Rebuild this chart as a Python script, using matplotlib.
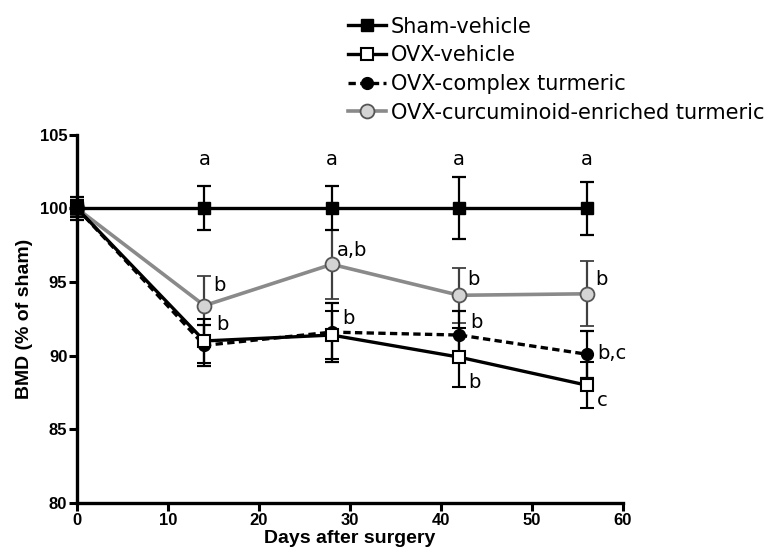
import matplotlib.pyplot as plt
from matplotlib.lines import Line2D

# BMD (% of sham) vs days after surgery
days = [0, 14, 28, 42, 56]

sham = [100, 100, 100, 100, 100]
sham_err = [0.8, 1.5, 1.5, 2.1, 1.8]

ovx = [100, 91.0, 91.4, 89.9, 88.0]
ovx_err = [0.6, 1.5, 1.6, 2.0, 1.55]

cplx = [100, 90.7, 91.6, 91.4, 90.1]
cplx_err = [0.6, 1.4, 2.0, 1.6, 1.6]

curc = [100, 93.4, 96.2, 94.1, 94.2]
curc_err = [0.5, 2.0, 2.35, 1.85, 2.2]

labels = ['Sham-vehicle', 'OVX-vehicle', 'OVX-complex turmeric',
          'OVX-curcuminoid-enriched turmeric']

# significance letters: (x, y, text)
sham_letters = ['a', 'a', 'a', 'a']
other_letters = [(15.0, 94.75, 'b'), (15.3, 92.15, 'b'),
                 (28.6, 97.13, 'a,b'), (29.2, 92.5, 'b'),
                 (42.9, 95.2, 'b'), (43.2, 92.26, 'b'), (43.0, 88.19, 'b'),
                 (56.9, 95.14, 'b'), (57.2, 90.16, 'b,c'), (57.1, 86.99, 'c')]

fig = plt.figure(figsize=(7.73, 5.55), dpi=100)
ax = fig.add_axes([0.0996, 0.0937, 0.7064, 0.6636])

grey = '#8a8a8a'
ebk = dict(capsize=5, elinewidth=1.6, capthick=1.6, clip_on=False)

ax.errorbar(days, curc, yerr=curc_err, color=grey, lw=2.6, marker='o', ms=10,
            mfc='#d4d4d4', mec='#555555', mew=1.3, ecolor='#404040', zorder=2, **ebk)
ax.errorbar(days, cplx, yerr=cplx_err, color='black', lw=2.4, ls=(0, (2.2, 1.3)),
            marker='o', ms=8.5, mfc='black', mec='black', ecolor='black', zorder=3, **ebk)
ax.errorbar(days, ovx, yerr=ovx_err, color='black', lw=2.4, marker='s', ms=8.5,
            mfc='white', mec='black', mew=1.5, ecolor='black', zorder=4, **ebk)
ax.errorbar(days, sham, yerr=sham_err, color='black', lw=2.4, marker='s', ms=8.5,
            mfc='black', mec='black', ecolor='black', zorder=5, **ebk)

for d, txt in zip(days[1:], sham_letters):
    ax.text(d, 103.3, txt, ha='center', va='center', fontsize=14,
            family='DejaVu Sans')
for x, y, txt in other_letters:
    ax.text(x, y, txt, ha='left', va='center', fontsize=14, family='DejaVu Sans')

ax.set_xlim(0, 60)
ax.set_ylim(80, 105)
ax.set_xticks(range(0, 61, 10))
ax.set_yticks(range(80, 106, 5))
for s in ['top', 'right']:
    ax.spines[s].set_visible(False)
for s in ['left', 'bottom']:
    ax.spines[s].set_linewidth(2.4)
ax.tick_params(width=2.2, length=6, pad=1, labelsize=12)
for lab in ax.get_xticklabels() + ax.get_yticklabels():
    lab.set_family('Liberation Sans')
    lab.set_fontweight('bold')

ax.set_xlabel('Days after surgery', fontsize=14, fontweight='bold',
              family='Liberation Sans', labelpad=2)
ax.set_ylabel('BMD (% of sham)', fontsize=14, fontweight='bold',
              family='Liberation Sans', labelpad=5)

handles = [
    Line2D([], [], color='black', lw=2.4, marker='s', ms=8.5, mfc='black'),
    Line2D([], [], color='black', lw=2.4, marker='s', ms=8.5, mfc='white', mew=1.5),
    Line2D([], [], color='black', lw=2.4, ls=(0, (2.2, 1.3)), marker='o', ms=8.5, mfc='black'),
    Line2D([], [], color=grey, lw=2.6, marker='o', ms=10, mfc='#d4d4d4', mec='#555555', mew=1.3),
]
fig.legend(handles, labels, loc='upper left', bbox_to_anchor=(0.426, 1.004),
           frameon=False, handlelength=1.8, handletextpad=0.25,
           labelspacing=0.42, prop={'family': 'DejaVu Sans', 'size': 15})

fig.savefig('out.png', dpi=100)
